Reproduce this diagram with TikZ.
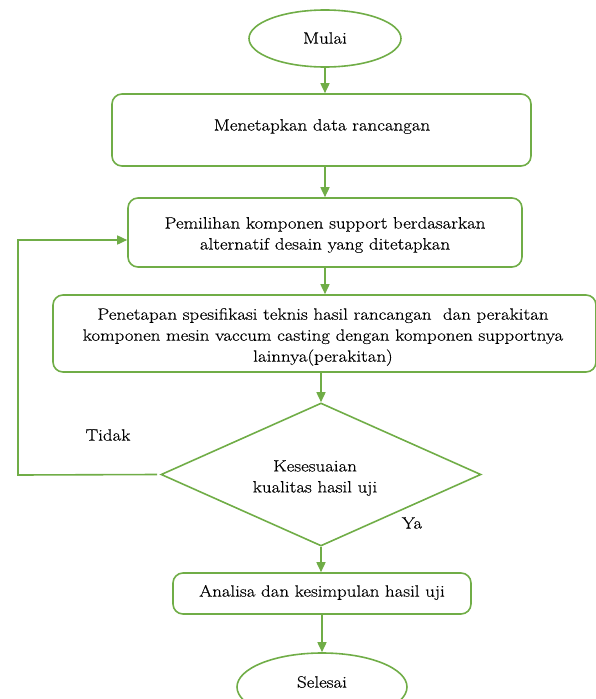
\documentclass[tikz,border=0pt]{standalone}
\usepackage{fontspec}
\setmainfont{Latin Modern Roman}[FakeStretch=1.15,FakeBold=0.4]
\usetikzlibrary{shapes.geometric,arrows.meta}
\definecolor{lg}{HTML}{70AD47}
\newcommand{\dfont}{\fontsize{16.4}{21}\selectfont}
\begin{document}
\begin{tikzpicture}[x=1pt,y=-1pt,
  every node/.style={font=\dfont, inner sep=0pt},
  line/.style={draw=lg, line width=1.6pt},
  arr/.style={line, -{Triangle[length=10pt,width=9pt]}},
  box/.style={draw=lg, line width=1.6pt, rounded corners=10pt},
  term/.style={draw=lg, line width=1.6pt, ellipse},
  decision/.style={draw=lg, line width=1.6pt, diamond},
  txt/.style={align=center}]
\useasboundingbox (0,0) rectangle (596,699);
\node[term, minimum width=152pt, minimum height=57pt] (mulai) at (325,38.5) {};
\node[txt] (mulait) at (325,38) {Mulai};
\node[box, minimum width=419pt, minimum height=72pt] (b1) at (321.5,130) {};
\node[txt] (b1t) at (322,126.5) {Menetapkan data rancangan};
\node[box, minimum width=394pt, minimum height=69pt] (b2) at (325,232.5) {};
\node[txt] (b2t) at (325,235) {Pemilihan komponen support berdasarkan\\alternatif desain yang ditetapkan};
\node[box, minimum width=543pt, minimum height=77pt] (b3) at (324.5,333.5) {};
\node[txt] (b3t) at (323,337) {Penetapan spesifikasi teknis hasil rancangan\ \ dan perakitan\\komponen mesin vaccum casting dengan komponen supportnya\\lainnya(perakitan)};
\node[decision, minimum width=320pt, minimum height=143pt] (dia) at (321,474.5) {};
\node[txt] (diat) at (315,478) {Kesesuaian\\kualitas hasil uji};
\node[box, minimum width=298pt, minimum height=41pt] (b4) at (322,593.5) {};
\node[txt] (b4t) at (322,592.5) {Analisa dan kesimpulan hasil uji};
\node[term, minimum width=170pt, minimum height=68pt] (selesai) at (322,687) {};
\node[txt] (selesait) at (322,682) {Selesai};
\node (tidak) at (108,435) {Tidak};
\node (ya) at (412,523) {Ya};
\coordinate (c1) at (18,475);
\coordinate (c2) at (18,240);
\draw[arr] (mulai.south) -- (mulai.south |- b1.north);
\draw[arr] (b1.south -| b2.north) -- (b2.north);
\draw[arr] (b2.south) -- (b2.south |- b3.north);
\draw[arr] (dia.north |- b3.south) -- (dia.north);
\draw[arr] (dia.south) -- (dia.south |- b4.north);
\draw[arr] (b4.south) -- (b4.south |- selesai.north);
\draw[arr] ([xshift=-3pt]dia.west) -- (c1) -- (c2) -- (c2 -| b2.west);
\end{tikzpicture}
\end{document}
